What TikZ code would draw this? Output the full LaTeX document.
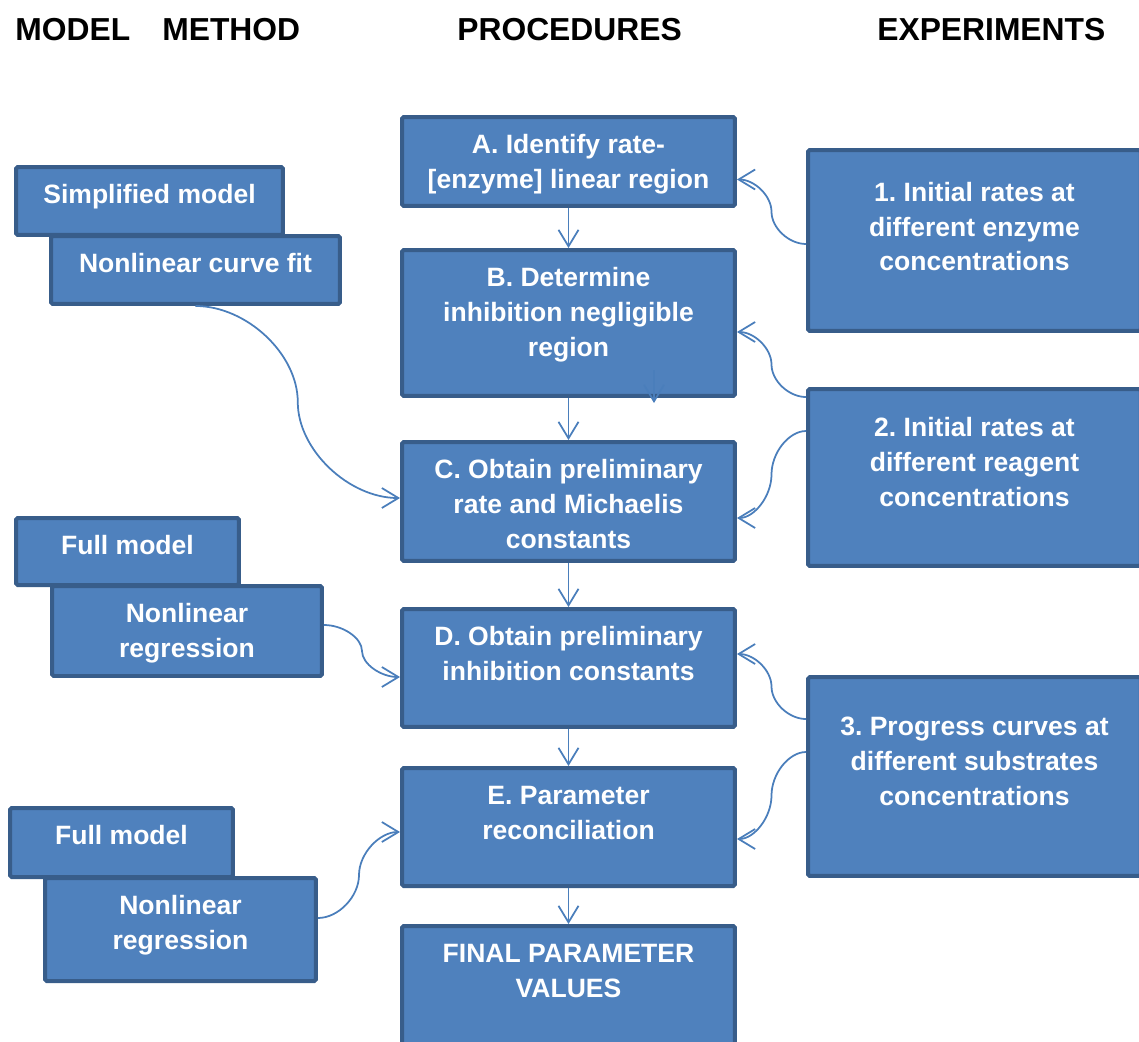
\documentclass[tikz,border=0pt]{standalone}
\usepackage{fontspec}
\setmainfont{Liberation Sans}
\usetikzlibrary{arrows.meta,calc}
\definecolor{boxfill}{HTML}{4F81BD}
\definecolor{boxline}{HTML}{385D8A}
\definecolor{connline}{HTML}{4A7EBB}
\frenchspacing
\tikzset{curvecon/.style={to path={
	let \p1=(\tikztostart), \p2=(\tikztotarget), \p3=($(\p1)!0.5!(\p2)$) in
	.. controls ($(\p1)!0.5!(\x3,\y1)$) and (\x3,{0.75*\y1+0.25*\y2}) .. (\p3)
	.. controls (\x3,{0.25*\y1+0.75*\y2}) and ($(\p2)!0.5!(\x3,\y2)$) .. (\p2) \tikztonodes}}}

\begin{document}
\begin{tikzpicture}[x=0.02cm,y=-0.02cm,
	box/.style={draw=boxline,fill=boxfill,line width=0.08cm,rounded corners=1pt,inner sep=0pt},
	boxtext/.style={anchor=base,align=center,text=white,inner sep=0pt,font=\fontsize{15.1pt}{19.9pt}\selectfont\bfseries},
	head/.style={anchor=base west,inner sep=0pt,font=\fontsize{18.1pt}{21pt}\selectfont\bfseries},
	conn/.style={draw=connline,line width=0.035cm,-{Straight Barb[length=0.33cm,width=0.4cm]}}]
	\useasboundingbox (0,0) rectangle (1139,1041);
	\clip (0,0) rectangle (1139,1041);

	\node[head] (hmodel) at (15,40) {MODEL};
	\node[head] (hmethod) at (162,40) {METHOD};
	\node[head] (hproc) at (457,40) {PROCEDURES};
	\node[head] (hexp) at (877,40) {EXPERIMENTS};

	\node[box,minimum width=6.66cm,minimum height=1.78cm] (A) at (568.5,161.5) {};
	\node[box,minimum width=6.66cm,minimum height=2.92cm] (B) at (568.5,323) {};
	\node[box,minimum width=6.66cm,minimum height=2.38cm] (C) at (568.5,501.5) {};
	\node[box,minimum width=6.66cm,minimum height=2.36cm] (D) at (568.5,668) {};
	\node[box,minimum width=6.66cm,minimum height=2.36cm] (E) at (568.5,827) {};
	\node[box,minimum width=6.66cm,minimum height=2.84cm] (F) at (568.5,997) {};
	\node[boxtext] (At) at ([yshift=-1.47cm]A.north) {A. Identify rate-\\{[enzyme]} linear region};
	\node[boxtext] (Bt) at ([yshift=-2.17cm]B.north) {B. Determine\\inhibition negligible\\region};
	\node[boxtext] (Ct) at ([yshift=-2.17cm]C.north) {C. Obtain preliminary\\rate and Michaelis\\constants};
	\node[boxtext] (Dt) at ([yshift=-1.47cm]D.north) {D. Obtain preliminary\\inhibition constants};
	\node[boxtext] (Et) at ([yshift=-1.47cm]E.north) {E. Parameter\\reconciliation};
	\node[boxtext] (Ft) at ([yshift=-1.47cm]F.north) {FINAL PARAMETER\\VALUES};

	\node[box,minimum width=6.66cm,minimum height=3.62cm] (X1) at (974.5,240.5) {};
	\node[box,minimum width=6.66cm,minimum height=3.54cm] (X2) at (974.5,477.5) {};
	\node[box,minimum width=6.66cm,minimum height=3.98cm] (X3) at (974.5,776.5) {};
	\node[boxtext] (X1t) at ([yshift=-2.46cm]X1.north) {1. Initial rates at\\different enzyme\\concentrations};
	\node[boxtext] (X2t) at ([yshift=-2.38cm]X2.north) {2. Initial rates at\\different reagent\\concentrations};
	\node[boxtext] (X3t) at ([yshift=-2.6cm]X3.north) {3. Progress curves at\\different substrates\\concentrations};

	\node[box,minimum width=5.34cm,minimum height=1.36cm] (M1) at (149.5,201) {};
	\node[boxtext] (M1t) at ([yshift=-0.77cm]M1.north) {Simplified model};
	\node[box,minimum width=5.78cm,minimum height=1.36cm] (N1) at (195.5,270) {};
	\node[boxtext] (N1t) at ([yshift=-0.77cm]N1.north) {Nonlinear curve fit};
	\node[box,minimum width=4.46cm,minimum height=1.34cm] (M2) at (127.5,551.5) {};
	\node[boxtext] (M2t) at ([yshift=-0.77cm]M2.north) {Full model};
	\node[box,minimum width=5.4cm,minimum height=1.8cm] (N2) at (187,631) {};
	\node[boxtext] (N2t) at ([yshift=-1.47cm]N2.north) {Nonlinear\\regression};
	\node[box,minimum width=4.46cm,minimum height=1.38cm] (M3) at (121.5,842.5) {};
	\node[boxtext] (M3t) at ([yshift=-0.77cm]M3.north) {Full model};
	\node[box,minimum width=5.42cm,minimum height=2.06cm] (N3) at (180.5,929.5) {};
	\node[boxtext] (N3t) at ([yshift=-1.47cm]N3.north) {Nonlinear\\regression};

	\draw[conn] (A.south) -- (B.north);
	\draw[conn] (B.south) -- (C.north);
	\draw[conn] (C.south) -- (D.north);
	\draw[conn] (D.south) -- (E.north);
	\draw[conn] (E.south) -- (F.north);
	\coordinate (s1) at (654,370);
	\coordinate (s2) at (654,403);
	\draw[conn] (s1) -- (s2);

	\draw[conn] ([yshift=-0.07cm]X1.west) to[curvecon] ([yshift=-0.36cm]A.east);
	\draw[conn] ([yshift=1.61cm]X2.west) to[curvecon] ([yshift=-0.18cm]B.east);
	\draw[conn] ([yshift=0.93cm]X2.west) to[curvecon] ([yshift=-0.33cm]C.east);
	\draw[conn] ([yshift=1.15cm]X3.west) to[curvecon] ([yshift=0.28cm]D.east);
	\draw[conn] ([yshift=0.49cm]X3.west) to[curvecon] ([yshift=-0.24cm]E.east);

	\draw[conn] (N1.south) to[curvecon] ([yshift=0.07cm]C.west);
	\draw[conn] ([yshift=0.12cm]N2.east) to[curvecon] ([yshift=-0.18cm]D.west);
	\draw[conn] ([yshift=0.23cm]N3.east) to[curvecon] ([yshift=-0.1cm]E.west);
\end{tikzpicture}
\end{document}
